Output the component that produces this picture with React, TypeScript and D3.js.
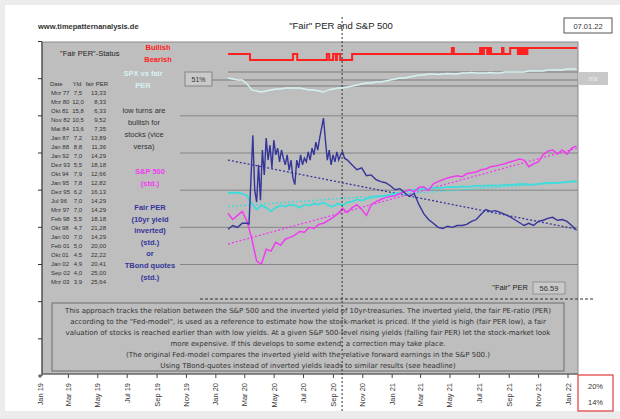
import React from "react";
import * as d3 from "d3";

// ---------- data ----------
const seriesStart = "2020-01-07";
const seriesEnd = "2022-01-07";
const stepDays = 10;

// S&P 500 (standardised), every 10 days
const spSeries = [0.37, 0.21, 0.32, 0.43, 0.16, -0.32, -0.91, -0.99, -0.59, -0.64, -0.4, -0.48, -0.32, -0.27, -0.21, -0.11, -0.13, 0.0, -0.03, 0.08, 0.11, 0.19, 0.27, 0.37, 0.51, 0.4, 0.53, 0.61, 0.48, 0.32, 0.61, 0.69, 0.75, 0.8, 0.83, 0.85, 0.91, 0.96, 1.01, 0.96, 1.07, 1.09, 0.99, 1.17, 1.23, 1.28, 1.33, 1.36, 1.39, 1.36, 1.44, 1.47, 1.49, 1.55, 1.57, 1.63, 1.65, 1.68, 1.71, 1.76, 1.79, 1.84, 1.81, 1.63, 1.71, 1.76, 1.95, 2.05, 2.08, 1.97, 2.08, 1.97, 2.13, 2.19];
// cyan comparison series (standardised), every 10 days
const cyanSeries = [0.93, 0.93, 0.93, 0.91, 0.85, 0.64, 0.48, 0.59, 0.53, 0.43, 0.53, 0.59, 0.56, 0.61, 0.59, 0.53, 0.61, 0.59, 0.64, 0.61, 0.67, 0.59, 0.56, 0.64, 0.59, 0.67, 0.69, 0.75, 0.72, 0.77, 0.8, 0.83, 0.83, 0.85, 0.88, 0.91, 0.93, 0.96, 0.99, 1.01, 1.01, 1.04, 1.03, 1.07, 1.06, 1.07, 1.08, 1.09, 1.08, 1.1, 1.09, 1.1, 1.12, 1.11, 1.12, 1.13, 1.12, 1.12, 1.15, 1.14, 1.15, 1.16, 1.17, 1.15, 1.15, 1.17, 1.18, 1.2, 1.19, 1.2, 1.21, 1.23, 1.23, 1.25];
// SPX vs fair PER (%), every 10 days
const spxVsFair = [53, 52, 51, 51, 47, 41, 40, 39, 40, 41, 42, 42, 43, 43, 43, 43, 42, 41, 41, 40, 39, 41, 42, 43, 43, 44, 45, 46, 47, 48, 48, 49, 49, 50, 51, 52, 53, 53, 54, 55, 56, 56, 57, 57, 56.5, 57, 57.5, 57, 57, 58, 58, 58.5, 58, 58, 58, 58.5, 58, 58, 59, 59, 59, 59, 59, 60, 60, 60, 60, 61, 61, 61, 61, 62, 62, 62];
const spxRefLevels = [59, 51, 45];
const spxCurrent = "51%";

// Fair PER (10yr yield inverted, standardised) – sampled densely in the volatile phase
const fairPerSegments: [string, string, number][] = [
  ["2020-01-07", "2020-02-17", 10],
  ["2020-02-20", "2020-09-08", 4],
  ["2020-09-13", "2022-01-08", 10],
];
const fairPerSeries = [
  -0.05, 0.05, 0.0, 0.11, 0.11,
  0.09, 1.27, 2.48, 1.0, 0.68, 1.68, 0.73, 2.08, 1.41, 2.4, 1.81, 2.21, 1.6, 2.35, 1.95, 2.13, 1.76, 2.08, 1.86, 1.68, 1.95, 1.54, 1.81, 1.33, 1.15, 1.81, 1.6, 1.95, 1.68, 1.86, 1.76, 2.03, 1.81, 2.13, 1.95, 2.29, 2.08, 2.4, 2.67, 2.94, 2.35, 1.81, 2.08, 1.68, 1.95, 1.76, 2.03, 1.81, 1.95, 2.03, 1.86,
  1.81, 1.68, 1.55, 1.6, 1.39, 1.41, 1.28, 1.23, 1.2, 1.12, 1.01, 1.04, 0.93, 0.83, 0.91, 0.61, 0.37, 0.21, 0.11, 0.0, -0.03, 0.03, 0.0, 0.05, 0.05, 0.08, 0.16, 0.21, 0.35, 0.48, 0.43, 0.45, 0.4, 0.35, 0.29, 0.21, 0.13, 0.05, 0.11, 0.05, 0.16, 0.19, 0.24, 0.27, 0.19, 0.21, 0.16, 0.05, -0.08,
];

// trends (start / end)
const trendDates = ["2020-01-07", "2022-01-07"];
const fairPerTrend = [1.81, -0.05];
const spTrend = [-0.45, 2.13];
const cyanTrend = [0.56, 1.23];

// "Fair PER"-status (0 bearish, 1 neutral, 2 bullish)
const statusDates = ["2020-01-07", "2020-02-22", "2020-05-22", "2020-05-31", "2020-08-01", "2020-08-06", "2020-08-14", "2020-08-20", "2020-08-22", "2020-08-29", "2020-09-23", "2021-04-20", "2021-04-24", "2021-06-18", "2021-06-22", "2021-06-26", "2021-07-03", "2021-07-07", "2021-07-11", "2021-08-03", "2021-08-06", "2021-08-20", "2021-09-05", "2021-09-09", "2021-09-13", "2021-09-17", "2021-09-21", "2021-09-25", "2022-01-07"];
const statusValues = [1, 0, 1, 0, 1, 0, 1, 0, 1, 0, 1, 2, 1, 2, 1, 2, 1, 2, 1, 2, 1, 2, 1, 2, 1, 2, 1, 2, 2];

const markerDate = "2020-09-02";

// bottom axis
const axisStart = "2019-01-01";
const axisEnd = "2022-01-01";
const stdTicks = [-4, -3, -2, -1, 0, 1, 2, 3, 4, 5];
const gridLevels = [3, 2, 1, 0, -1];

// history table
const tableHeader = ["Date", "Yld", "fair PER"];
const tableDates = ["Mrz 77", "Mrz 80", "Okt 81", "Nov 82", "Mai 84", "Jan 87", "Jan 88", "Jan 92", "Dez 93", "Okt 94", "Jan 95", "Dez 95", "Jul 96", "Mrz 97", "Feb 98", "Okt 98", "Jan 00", "Feb 01", "Okt 01", "Jan 02", "Sep 02", "Mrz 03"];
const tableYields = ["7,5", "12,0", "15,8", "10,5", "13,6", "7,2", "8,8", "7,0", "5,5", "7,9", "7,8", "6,2", "7,0", "7,0", "5,5", "4,7", "7,0", "5,0", "4,5", "4,9", "4,0", "3,9"];
const tablePER = ["13,33", "8,33", "6,33", "9,52", "7,35", "13,89", "11,36", "14,29", "18,18", "12,66", "12,82", "16,13", "14,29", "14,29", "18,18", "21,28", "14,29", "20,00", "22,22", "20,41", "25,00", "25,64"];

const noteLines = ["low turns are", "bullish for", "stocks (vice", "versa)"];
const spLegend = ["S&P 500", "(std.)"];
const fairLegend = ["Fair PER", "(10yr yield", "inverted)", "(std.)", "or", "TBond quotes", "(std.)"];
const fairPerValue = "56.59";
const dateStamp = "07.01.22";
const cornerValues = ["20%", "14%"];

const description = [
  "This approach tracks the relation between the S&P 500 and the inverted yield of 10yr-treasuries. The inverted yield, the fair PE-ratio (PER)",
  "according to the \"Fed-model\", is used as a reference to estimate how the stock-market is priced. If the yield is high (fair PER low), a fair",
  "valuation of stocks is reached earlier than with low yields. At a given S&P 500-level rising yields (falling fair PER) let the stock-market look",
  "more expensive. If this develops to some extend, a correction may take place.",
  "(The original Fed-model compares the inverted yield with the relative forward earnings in the S&P 500.)",
  "Using TBond-quotes instead of inverted yields leads to similar results (see headline)",
];

// ---------- colours ----------
const C = {
  gray: "#bebebe",
  grid: "#858585",
  navy: "#35359a",
  magenta: "#f03cf0",
  cyan: "#3cdcdc",
  pale: "#d6f2f2",
  red: "#ff2020",
};
const FONT = "'Liberation Sans', Arial, sans-serif";
const WIDE = "'DejaVu Sans', Verdana, sans-serif";

const parse = d3.utcParse("%Y-%m-%d");

export default function App() {
  const dates = d3.utcDay.range(parse(seriesStart)!, d3.utcDay.offset(parse(seriesEnd)!, 1), stepDays);
  const fairDates = fairPerSegments.flatMap(([a, b, s]) => d3.utcDay.range(parse(a)!, parse(b)!, s));

  const xData = d3.scaleUtc().domain([parse(seriesStart)!, parse(seriesEnd)!]).range([228, 577]);
  const xAxis = d3.scaleUtc().domain([parse(axisStart)!, parse(axisEnd)!]).range([40, 568]);
  const yStd = d3.scaleLinear().domain([-4, 5]).range([376, 41.5]);
  const ySpx = d3.scaleLinear().domain([38, 64]).range([93, 67]);
  const yStatus = d3.scaleLinear().domain([0, 2]).range([60, 48]);

  const lineStd = (vals: number[], ds: Date[]) =>
    d3.line<number>().x((_, i) => xData(ds[i])).y((d) => yStd(d))(vals) || "";
  const trendLine = (vals: number[]) =>
    d3.line<number>().x((_, i) => xData(parse(trendDates[i])!)).y((d) => yStd(d))(vals) || "";
  const spxLine = d3.line<number>().x((_, i) => xData(dates[i])).y((d) => ySpx(d))(spxVsFair) || "";
  const statusLine =
    d3.line<number>().curve(d3.curveStepAfter).x((_, i) => xData(parse(statusDates[i])!)).y((d) => yStatus(d))(statusValues) || "";

  const axisTicks = xAxis.ticks(d3.utcMonth.every(2)!);
  const fmt = d3.utcFormat("%b %y");
  const markerX = xData(parse(markerDate)!);

  const plotL = 42, plotR = 578, plotT = 42, plotB = 374;

  return (
    <svg width={620} height={419} style={{ position: "absolute", left: 0, top: 0 }} fontFamily={FONT}>
      <rect x={0} y={0} width={620} height={419} fill="#ececec" />
      <rect x={5} y={5} width={615} height={406} fill="#ffffff" />

      {/* header */}
      <text x={38} y={29} fontSize={7.5} fontWeight="bold" fill="#333">www.timepatternanalysis.de</text>
      <text x={341} y={29} fontSize={9.5} textAnchor="middle" fill="#222">"Fair" PER and S&amp;P 500</text>
      <rect x={564} y={18} width={48} height={15} fill="#fff" stroke="#555" strokeWidth={1} />
      <text x={588} y={28.5} fontSize={7.5} textAnchor="middle" fill="#333">{dateStamp}</text>

      {/* plot area */}
      <rect x={plotL} y={plotT} width={plotR - plotL} height={plotB - plotT} fill={C.gray} stroke="#8c8c8c" strokeWidth={1} />

      {/* left axis */}
      <line x1={plotL} x2={plotL} y1={plotT} y2={yStd(-4)} stroke="#333" strokeWidth={1} />
      {stdTicks.map((t) => (
        <line key={t} x1={plotL - 4} x2={plotL} y1={yStd(t)} y2={yStd(t)} stroke="#333" strokeWidth={1} />
      ))}

      {/* gridlines */}
      {gridLevels.map((g) => (
        <line key={g} x1={180} x2={plotR} y1={yStd(g)} y2={yStd(g)} stroke={C.grid} strokeWidth={1} />
      ))}

      {/* status panel */}
      <text x={60} y={56} fontSize={7.5} fill="#222">"Fair PER"-Status</text>
      <text x={158} y={50} fontSize={7.5} fontWeight="bold" fill={C.red} textAnchor="middle">Bullish</text>
      <text x={158} y={62} fontSize={7.5} fontWeight="bold" fill={C.red} textAnchor="middle">Bearish</text>
      <path d={statusLine} fill="none" stroke={C.red} strokeWidth={2} />

      {/* SPX vs fair PER panel */}
      <text x={143} y={76} fontSize={7.5} fontWeight="bold" fill={C.pale} textAnchor="middle">SPX vs fair</text>
      <text x={143} y={88} fontSize={7.5} fontWeight="bold" fill={C.pale} textAnchor="middle">PER</text>
      {spxRefLevels.map((lv, i) => (
        <line key={lv} x1={i === 1 ? 212 : 228} x2={plotR} y1={ySpx(lv)} y2={ySpx(lv)} stroke="#7a7a7a" strokeWidth={1} />
      ))}
      <rect x={185} y={72} width={27} height={14} fill="#c9c9c9" stroke="#777" strokeWidth={0.8} />
      <text x={198.5} y={82} fontSize={7} textAnchor="middle" fill="#333">{spxCurrent}</text>
      <path d={spxLine} fill="none" stroke={C.pale} strokeWidth={1.3} />
      <rect x={578} y={72} width={30} height={13} fill="#c8c8c8" />
      <text x={593} y={81} fontSize={6.5} textAnchor="middle" fill="#e2f2f2">n/a</text>

      {/* history table */}
      <g fontSize={6} fill="#333">
        <text x={50} y={86}>{tableHeader[0]}</text>
        <text x={77} y={86} textAnchor="middle">{tableHeader[1]}</text>
        <text x={108} y={86} textAnchor="end">{tableHeader[2]}</text>
        {tableDates.map((d, i) => (
          <g key={d + i}>
            <text x={51} y={95 + i * 9}>{d}</text>
            <text x={78} y={95 + i * 9} textAnchor="middle">{tableYields[i]}</text>
            <text x={106} y={95 + i * 9} textAnchor="end">{tablePER[i]}</text>
          </g>
        ))}
      </g>

      {/* notes & legends */}
      {noteLines.map((t, i) => (
        <text key={t} x={144} y={113 + i * 12} fontSize={7.5} textAnchor="middle" fill="#333">{t}</text>
      ))}
      {spLegend.map((t, i) => (
        <text key={t} x={150} y={174 + i * 12} fontSize={7.5} fontWeight="bold" textAnchor="middle" fill={C.magenta}>{t}</text>
      ))}
      {fairLegend.map((t, i) => (
        <text key={t + i} x={150} y={210 + i * 11.6} fontSize={7.5} fontWeight="bold" textAnchor="middle" fill={C.navy}>{t}</text>
      ))}

      {/* trends */}
      <path d={trendLine(fairPerTrend)} fill="none" stroke={C.navy} strokeWidth={1.3} strokeDasharray="2,2" />
      <path d={trendLine(spTrend)} fill="none" stroke={C.magenta} strokeWidth={1.3} strokeDasharray="2,2" />
      <path d={trendLine(cyanTrend)} fill="none" stroke={C.cyan} strokeWidth={1.3} strokeDasharray="2,2" />

      {/* series */}
      <path d={lineStd(cyanSeries, dates)} fill="none" stroke={C.cyan} strokeWidth={1.8} />
      <path d={lineStd(spSeries, dates)} fill="none" stroke={C.magenta} strokeWidth={1.5} />
      <path d={lineStd(fairPerSeries, fairDates)} fill="none" stroke={C.navy} strokeWidth={1.4} />

      {/* fair PER value */}
      <text x={528} y={290} fontSize={7.5} textAnchor="end" fill="#222">"Fair" PER</text>
      <rect x={533} y={282} width={32} height={12} fill="#c9c9c9" stroke="#888" strokeWidth={0.8} />
      <text x={549} y={291} fontSize={7.5} textAnchor="middle" fill="#333">{fairPerValue}</text>

      {/* dashed horizontal */}
      <line x1={200} x2={595} y1={299} y2={299} stroke="#333" strokeWidth={1} strokeDasharray="3,2" />

      {/* description box */}
      <rect x={52} y={303} width={512} height={68} fill={C.gray} stroke="#6d6d6d" strokeWidth={1} />
      {description.map((t, i) => (
        <text key={i} x={308} y={313 + i * 11} fontSize={7} fontFamily={WIDE} textAnchor="middle" fill="#333">{t}</text>
      ))}

      {/* bottom axis */}
      <line x1={plotL} x2={plotR} y1={plotB} y2={plotB} stroke="#555" strokeWidth={1} />
      {axisTicks.map((t) => (
        <g key={+t} transform={`translate(${xAxis(t)},0)`}>
          <line y1={plotB} y2={plotB + 4} stroke="#444" strokeWidth={1} />
          <text transform={`translate(2.5,${plotB + 9}) rotate(-90)`} fontSize={7.5} textAnchor="end" fill="#333">{fmt(t)}</text>
        </g>
      ))}

      {/* marker */}
      <line x1={markerX} x2={markerX} y1={17} y2={412} stroke="#333" strokeWidth={1} strokeDasharray="2,2" />

      {/* corner box */}
      <rect x={578} y={375} width={35} height={36} fill="#fff" stroke="#e03a3a" strokeWidth={1.2} />
      <text x={595.5} y={389} fontSize={7.5} textAnchor="middle" fill="#333">{cornerValues[0]}</text>
      <text x={595.5} y={405} fontSize={7.5} textAnchor="middle" fill="#333">{cornerValues[1]}</text>
    </svg>
  );
}
